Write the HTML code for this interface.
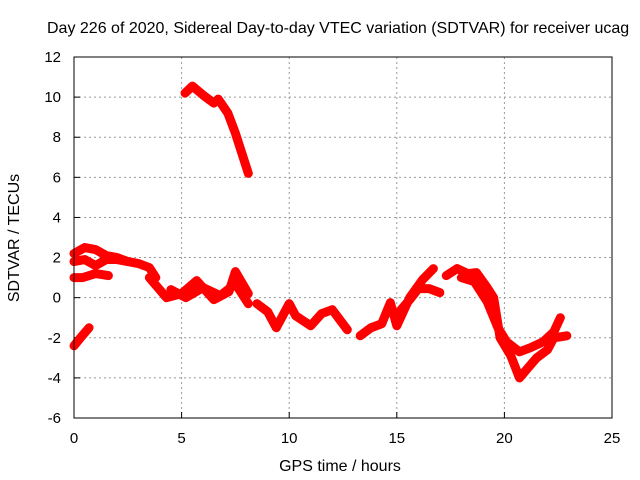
<!DOCTYPE html>
<html><head><meta charset="utf-8"><style>
body{margin:0;background:#fff}
svg{display:block;font-family:"Liberation Sans",sans-serif}
</style></head><body>
<svg id="chart" width="640" height="480">
<text x="47" y="33" font-size="16" text-anchor="start">Day 226 of 2020, Sidereal Day-to-day VTEC variation (SDTVAR) for receiver ucag</text>
<text x="340" y="471" font-size="16" text-anchor="middle">GPS time / hours</text>
<text transform="translate(19,238) rotate(-90)" font-size="16" text-anchor="middle">SDTVAR / TECUs</text>
<g id="grid"></g><g id="marks"></g>
<rect x="74" y="57" width="538" height="361" fill="none" stroke="#000" stroke-width="1"/>
</svg>
<script>
const xTicks=[0,5,10,15,20,25];
const yTicks=[-6,-4,-2,0,2,4,6,8,10,12];
const t1=[5.16,5.5,6.0,6.5,6.7,7.15,7.5,7.8,8.1];
const v1=[10.2,10.55,10.1,9.7,9.9,9.2,8.2,7.2,6.2];
const t2=[0,0.3,0.7];
const v2=[-2.4,-2.0,-1.5];
const t3=[0,0.5,1,1.5,2,2.5,3,3.5,3.8];
const v3=[2.2,2.5,2.4,2.1,2.0,1.8,1.7,1.5,1.0];
const t4=[0,0.5,1,1.5,2,2.5];
const v4=[1.8,1.9,1.6,1.9,1.9,1.8];
const t5=[0,0.4,1,1.6];
const v5=[1.0,1.0,1.2,1.1];
const t6=[3.5,4.3,5,5.7,6.5,7.2,7.5,8.1];
const v6=[1.0,0.0,0.2,0.85,-0.1,0.3,1.3,0.2];
const t7=[4.5,5.2,6,6.8,7.5,8.1];
const v7=[0.4,0.0,0.5,0.1,0.7,-0.3];
const t8=[8.5,9,9.4,10,10.3,11,11.5,12,12.7];
const v8=[-0.3,-0.7,-1.5,-0.3,-0.9,-1.4,-0.8,-0.6,-1.6];
const t9=[13.3,13.8,14.3,14.7,15,15.6,16.2,16.7];
const v9=[-1.9,-1.5,-1.3,-0.25,-1.4,0.0,0.9,1.45];
const t10=[15.2,15.6,16,16.5,17];
const v10=[-0.6,-0.1,0.45,0.45,0.25];
const t11=[17.3,17.8,18.3,18.7,19.2,19.5,19.8,20.3,20.7,21.1,21.5,22,22.3,22.9];
const v11=[1.1,1.45,1.2,1.25,0.5,0,-2,-2.9,-4,-3.5,-3,-2.6,-2,-1.9];
const t12=[18,18.6,19.2,19.7,20.1,20.7,21.2,21.8,22.3,22.6];
const v12=[1.0,0.8,-0.2,-1.5,-2.2,-2.7,-2.5,-2.2,-1.7,-1.0];
const X=t=>74+t*(538/25), Y=v=>418-(v+6)*(361/18);
const NS="http://www.w3.org/2000/svg";
const grid=document.getElementById('grid'), marks=document.getElementById('marks');
function mk(tag,a,p){const e=document.createElementNS(NS,tag);for(const k in a)e.setAttribute(k,a[k]);p.appendChild(e);return e;}
xTicks.forEach(t=>{
 if(t>0&&t<25){const l=mk('line',{x1:X(t),x2:X(t),y1:57,y2:418,stroke:'#999','stroke-dasharray':'2,3'},grid);
 
 }
 const k=mk('line',{x1:X(t),x2:X(t),y1:418,y2:412,stroke:'#000'},grid);
 
 
 const tx=mk('text',{x:X(t),y:443,'font-size':15,'text-anchor':'middle'},grid);tx.textContent=t;
 
 
});
yTicks.forEach(v=>{
 if(v>-6&&v<12){const l=mk('line',{x1:74,x2:612,y1:Y(v),y2:Y(v),stroke:'#999','stroke-dasharray':'2,3'},grid);
 
 }
 const k=mk('line',{x1:74,x2:80,y1:Y(v),y2:Y(v),stroke:'#000'},grid);
 
 
 const tx=mk('text',{x:61,y:Y(v)+5,'font-size':15,'text-anchor':'end'},grid);tx.textContent=v;
 
 
});
const series=[[t1,v1],[t2,v2],[t3,v3],[t4,v4],[t5,v5],[t6,v6],[t7,v7],[t8,v8],[t9,v9],[t10,v10],[t11,v11],[t12,v12]];
series.forEach((s,i)=>{
 const pts=s[0].map((t,j)=>X(t)+','+Y(s[1][j])).join(' ');
 const p=mk('polyline',{points:pts,fill:'none',stroke:'#f00','stroke-width':9,'stroke-linejoin':'round','stroke-linecap':'round'},marks);
 
 
});
</script>
</body></html>
